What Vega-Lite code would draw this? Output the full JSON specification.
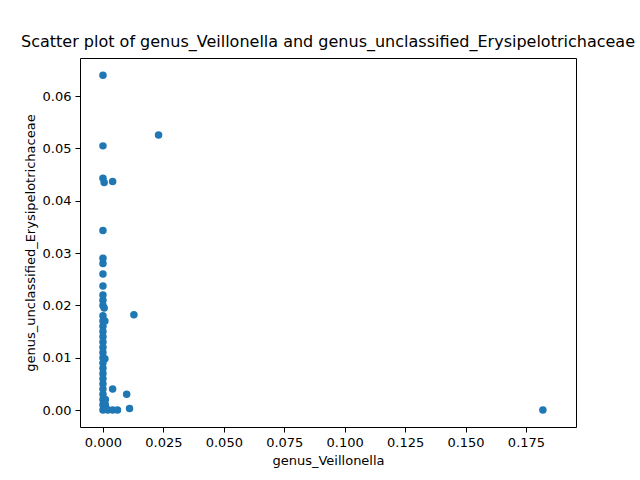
{
  "$schema": "https://vega.github.io/schema/vega-lite/v6.json",
  "width": 496,
  "height": 369,
  "autosize": "none",
  "padding": {"left": 80, "top": 58, "right": 64, "bottom": 53},
  "background": "white",
  "config": {
    "font": "DejaVu Sans",
    "view": {"stroke": "black", "strokeWidth": 1},
    "axis": {"grid": false, "domain": false, "tickColor": "black", "tickSize": 5, "labelColor": "black", "labelFontSize": 13, "titleFontSize": 13, "titleFontWeight": "normal", "titleColor": "black", "labelPadding": 4, "titlePadding": 5}
  },
  "title": {"text": "Scatter plot of genus_Veillonella and genus_unclassified_Erysipelotrichaceae", "fontSize": 16, "fontWeight": "normal", "offset": 8, "anchor": "middle"},
  "data": {"values": [
    {"x": 0, "y": 0.064}, {"x": 0, "y": 0.0505}, {"x": 0, "y": 0.0443}, {"x": 0.0005, "y": 0.0435},
    {"x": 0.004, "y": 0.0437}, {"x": 0.023, "y": 0.0526}, {"x": 0, "y": 0.0343}, {"x": 0, "y": 0.029},
    {"x": 0, "y": 0.028}, {"x": 0, "y": 0.026}, {"x": 0, "y": 0.0237}, {"x": 0, "y": 0.022},
    {"x": 0, "y": 0.021}, {"x": 0, "y": 0.02}, {"x": 0.0005, "y": 0.0195}, {"x": 0, "y": 0.018},
    {"x": 0, "y": 0.017}, {"x": 0.0008, "y": 0.017}, {"x": 0, "y": 0.016}, {"x": 0, "y": 0.015},
    {"x": 0, "y": 0.014}, {"x": 0, "y": 0.013}, {"x": 0, "y": 0.012}, {"x": 0, "y": 0.011},
    {"x": 0, "y": 0.01}, {"x": 0.0008, "y": 0.0098}, {"x": 0, "y": 0.009}, {"x": 0, "y": 0.008},
    {"x": 0, "y": 0.007}, {"x": 0, "y": 0.006}, {"x": 0, "y": 0.005}, {"x": 0, "y": 0.004},
    {"x": 0, "y": 0.003}, {"x": 0, "y": 0.002}, {"x": 0, "y": 0.001}, {"x": 0, "y": 0},
    {"x": 0.0005, "y": 0.0005}, {"x": 0.001, "y": 0.001}, {"x": 0.002, "y": 0}, {"x": 0.004, "y": 0.004},
    {"x": 0.004, "y": 0}, {"x": 0.006, "y": 0}, {"x": 0.0098, "y": 0.003}, {"x": 0.011, "y": 0.0003},
    {"x": 0.0128, "y": 0.0182}, {"x": 0.182, "y": 0}, {"x": 0.001, "y": 0.002}, {"x": 0.0015, "y": 0.0002}
  ]},
  "mark": {"type": "circle", "size": 56, "color": "#1f77b4", "opacity": 1},
  "encoding": {
    "x": {"field": "x", "type": "quantitative", "title": "genus_Veillonella",
      "scale": {"domain": [-0.0095, 0.1957], "nice": false, "zero": false},
      "axis": {"values": [0, 0.025, 0.05, 0.075, 0.1, 0.125, 0.15, 0.175], "format": ".3f"}},
    "y": {"field": "y", "type": "quantitative", "title": "genus_unclassified_Erysipelotrichaceae",
      "scale": {"domain": [-0.00325, 0.0673], "nice": false, "zero": false},
      "axis": {"values": [0, 0.01, 0.02, 0.03, 0.04, 0.05, 0.06], "format": ".2f"}}
  }
}
